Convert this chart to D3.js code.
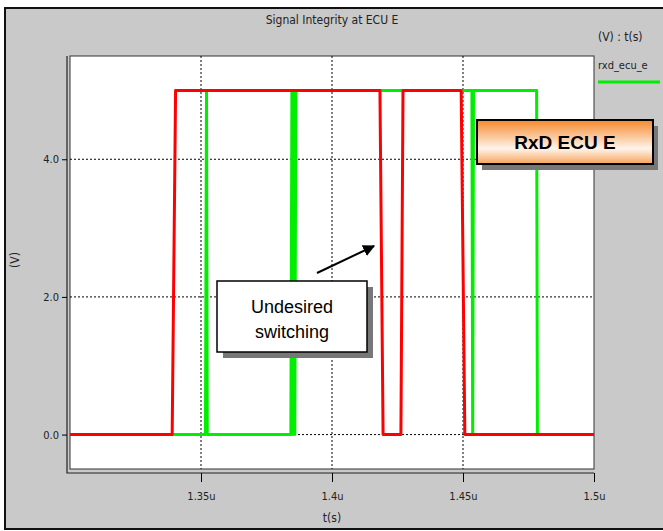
<!DOCTYPE html>
<html>
<head>
<meta charset="utf-8">
<script src="https://cdn.jsdelivr.net/npm/d3@7"></script>
<style>
  body { margin: 0; background: #fff; }
  svg text { font-family: "Liberation Sans Narrow", "DejaVu Sans Condensed", "Liberation Sans", sans-serif; fill: #222; }
  svg text.callout { font-family: "Liberation Sans", Arial, sans-serif; fill: #000; }
</style>
</head>
<body>
<div id="chart"></div>
<script>
// time in microseconds, voltage in volts
const redTimes   = [1.3, 1.3390, 1.3403, 1.4183, 1.4195, 1.4263, 1.4271, 1.4493, 1.4507, 1.5];
const redVolts   = [0,   0,      5,      5,      0,      0,      5,      5,      0,      0];
const greenTimes = [1.3, 1.3517, 1.3521, 1.3524, 1.3843, 1.3847, 1.3851, 1.3855, 1.3858, 1.3862, 1.4534, 1.4537, 1.4540, 1.4781, 1.4784, 1.5];
const greenVolts = [0,   0,      5,      0,      0,      5,      0,      5,      0,      5,      5,      0,      5,      5,      0,      0];
const xTicks = [1.35, 1.4, 1.45, 1.5];
const yTicks = [0, 2, 4];
const seriesName = "rxd_ecu_e";

const W = 663, H = 531;
const plot = {left: 70, right: 594, top: 56, bottom: 469};

const svg = d3.select("#chart").append("svg")
    .attr("width", W)
    .attr("height", H);

const defs = svg.append("defs");
const grad = defs.append("linearGradient")
    .attr("id", "orangeGrad")
    .attr("x1", 0).attr("y1", 0).attr("x2", 0).attr("y2", 1);
grad.append("stop").attr("offset", "0%").attr("stop-color", "#f5892c");
grad.append("stop").attr("offset", "65%").attr("stop-color", "#fff4ea");
grad.append("stop").attr("offset", "100%").attr("stop-color", "#f7a35a");

// grey panel with black frame
svg.append("rect")
    .attr("x", 0).attr("y", 0).attr("width", W).attr("height", H)
    .attr("fill", "#fff");
svg.append("rect")
    .attr("x", 5).attr("y", 8).attr("width", W + 20).attr("height", H - 10)
    .attr("fill", "#c9c9c9")
    .attr("stroke", "#111")
    .attr("stroke-width", 2);

let x = d3.scaleLinear().domain([1.3, 1.5]).range([plot.left, plot.right]);
let y = d3.scaleLinear().domain([-0.5, 5.5]).range([plot.bottom, plot.top]);

// plot area
svg.append("rect")
    .attr("x", plot.left).attr("y", plot.top)
    .attr("width", plot.right - plot.left).attr("height", plot.bottom - plot.top)
    .attr("fill", "#fff")
    .attr("stroke", "#333")
    .attr("stroke-width", 1);
// outer bevel lines left + bottom
svg.append("path")
    .attr("d", `M${plot.left - 3},${plot.top} V${plot.bottom + 4} H${plot.right}`)
    .attr("fill", "none")
    .attr("stroke", "#222")
    .attr("stroke-width", 1.2);

// dotted grid
svg.append("g").selectAll("line")
    .data(xTicks.filter(d => d < 1.5))
    .join("line")
    .attr("x1", d => x(d)).attr("x2", d => x(d))
    .attr("y1", plot.top).attr("y2", plot.bottom)
    .attr("stroke", "#000")
    .attr("stroke-width", 1)
    .attr("stroke-dasharray", "2,2");
svg.append("g").selectAll("line")
    .data(yTicks)
    .join("line")
    .attr("x1", plot.left).attr("x2", plot.right)
    .attr("y1", d => y(d)).attr("y2", d => y(d))
    .attr("stroke", "#000")
    .attr("stroke-width", 1)
    .attr("stroke-dasharray", "2,2");

// axes
let xAxis = d3.axisBottom(x)
    .tickValues(xTicks)
    .tickFormat(d => d + "u")
    .tickSize(9)
    .tickPadding(10);
let gx = svg.append("g")
    .attr("transform", `translate(0, ${plot.bottom + 4})`)
    .call(xAxis);
gx.select(".domain").remove();
gx.selectAll("text").attr("font-size", 11);

let yAxis = d3.axisLeft(y)
    .tickValues(yTicks)
    .tickFormat(d3.format(".1f"))
    .tickSize(5)
    .tickPadding(3);
let gy = svg.append("g")
    .attr("transform", `translate(${plot.left - 3}, 0)`)
    .call(yAxis);
gy.select(".domain").remove();
gy.selectAll("text").attr("font-size", 11);

// waveforms
let line = d3.line()
    .x(d => x(d[0]))
    .y(d => y(d[1]));

let greenData = greenTimes.map((t, i) => [t, greenVolts[i]]);
let redData = redTimes.map((t, i) => [t, redVolts[i]]);

svg.append("path")
    .datum(greenData)
    .attr("d", line)
    .attr("fill", "none")
    .attr("stroke", "#00ee00")
    .attr("stroke-width", 3)
    .attr("stroke-linejoin", "round");

svg.append("path")
    .datum(redData)
    .attr("d", line)
    .attr("fill", "none")
    .attr("stroke", "#ff0000")
    .attr("stroke-width", 3)
    .attr("stroke-linejoin", "round");

// titles
svg.append("text")
    .attr("x", 332).attr("y", 24)
    .attr("text-anchor", "middle")
    .attr("font-size", 12)
    .text("Signal Integrity at ECU E");

svg.append("text")
    .attr("x", 332).attr("y", 522)
    .attr("text-anchor", "middle")
    .attr("font-size", 12)
    .text("t(s)");

svg.append("text")
    .attr("transform", "translate(19, 260) rotate(-90)")
    .attr("text-anchor", "middle")
    .attr("font-size", 12)
    .text("(V)");

// legend
svg.append("text")
    .attr("x", 598).attr("y", 41)
    .attr("font-size", 12)
    .text("(V) : t(s)");
svg.append("text")
    .attr("x", 598).attr("y", 69)
    .attr("font-size", 11)
    .text(seriesName);
svg.append("line")
    .attr("x1", 598).attr("x2", 660)
    .attr("y1", 82).attr("y2", 82)
    .attr("stroke", "#00ee00")
    .attr("stroke-width", 3);

// callout: RxD ECU E
svg.append("rect")
    .attr("x", 482).attr("y", 126).attr("width", 176).attr("height", 44)
    .attr("fill", "#777");
svg.append("rect")
    .attr("x", 477).attr("y", 120).attr("width", 176).attr("height", 44)
    .attr("fill", "url(#orangeGrad)")
    .attr("stroke", "#000")
    .attr("stroke-width", 2);
svg.append("text")
    .attr("class", "callout")
    .attr("x", 565).attr("y", 149)
    .attr("text-anchor", "middle")
    .attr("font-weight", "bold")
    .attr("font-size", 19)
    .text("RxD ECU E");

// callout: Undesired switching
svg.append("rect")
    .attr("x", 223).attr("y", 287).attr("width", 150).attr("height", 71)
    .attr("fill", "#777");
svg.append("rect")
    .attr("x", 217).attr("y", 281).attr("width", 150).attr("height", 71)
    .attr("fill", "#fff")
    .attr("stroke", "#000")
    .attr("stroke-width", 1.5);
svg.append("text")
    .attr("class", "callout")
    .attr("x", 292).attr("y", 313)
    .attr("text-anchor", "middle")
    .attr("font-size", 18)
    .text("Undesired");
svg.append("text")
    .attr("class", "callout")
    .attr("x", 292).attr("y", 338)
    .attr("text-anchor", "middle")
    .attr("font-size", 18)
    .text("switching");

// arrow
defs.append("marker")
    .attr("id", "arrowHead")
    .attr("viewBox", "0 0 10 10")
    .attr("refX", 9).attr("refY", 5)
    .attr("markerWidth", 6).attr("markerHeight", 6)
    .attr("markerUnits", "strokeWidth")
    .attr("orient", "auto")
    .append("path")
    .attr("d", "M0,0 L10,5 L0,10 Z")
    .attr("fill", "#000");
svg.append("line")
    .attr("x1", 317).attr("y1", 273)
    .attr("x2", 374).attr("y2", 246)
    .attr("stroke", "#000")
    .attr("stroke-width", 2)
    .attr("marker-end", "url(#arrowHead)");
</script>
</body>
</html>
